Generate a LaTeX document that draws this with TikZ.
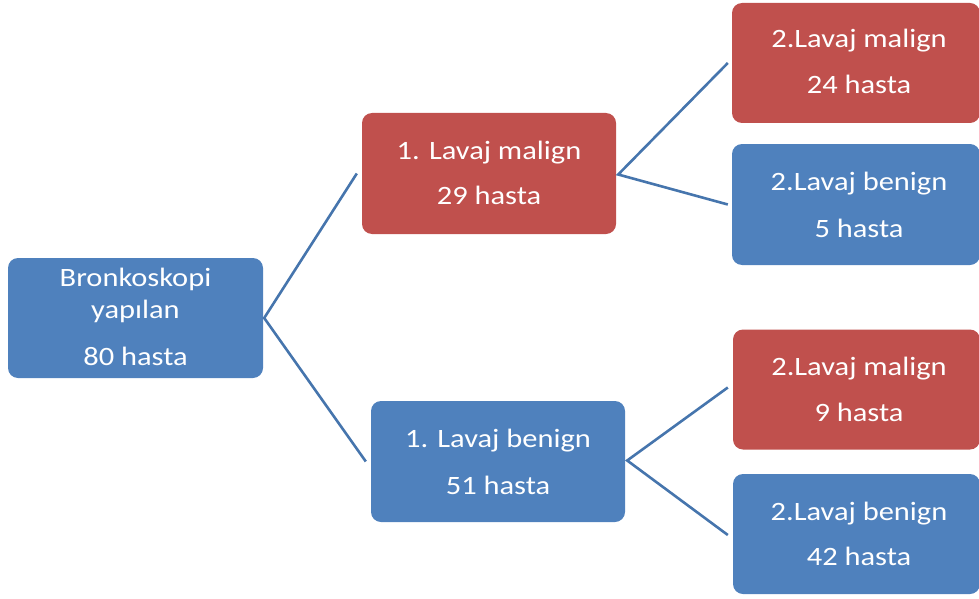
\documentclass[tikz,border=0pt]{standalone}
\usepackage{fontspec}
\setmainfont{Carlito}[FakeStretch=1.15]
\definecolor{boxblue}{HTML}{4F81BD}
\definecolor{boxred}{HTML}{C0504D}
\definecolor{linkblue}{HTML}{4675AD}
\begin{document}
\begin{tikzpicture}[x=1pt,y=-1pt,
  box/.style={rounded corners=10pt, inner sep=0pt, draw=none},
  bluebox/.style={box, fill=boxblue},
  redbox/.style={box, fill=boxred},
  txt/.style={anchor=base, inner sep=0pt, text=white, font=\fontsize{26.5}{31}\selectfont},
  link/.style={draw=linkblue, line width=2.6pt}]
\useasboundingbox (0,0) rectangle (979,599);
% boxes
\node[bluebox, minimum width=255pt, minimum height=120pt] (root) at (135.5,318) {};
\node[redbox,  minimum width=254pt, minimum height=121pt] (m1) at (489,173.5) {};
\node[bluebox, minimum width=254pt, minimum height=121pt] (m2) at (498,461.5) {};
\node[redbox,  minimum width=248pt, minimum height=120pt] (r1) at (856,63) {};
\node[bluebox, minimum width=248pt, minimum height=121pt] (r2) at (856,204.5) {};
\node[redbox,  minimum width=247pt, minimum height=120pt] (r3) at (856.5,389.5) {};
\node[bluebox, minimum width=247pt, minimum height=120pt] (r4) at (856.5,534) {};
% texts
\node[txt] (t0a) at (135.5,286) {Bronkoskopi};
\node[txt] (t0b) at (135.5,318) {yapılan};
\node[txt] (t0c) at (135.5,365) {80 hasta};
\node[txt] (t1a) at (489,159) {1. Lavaj malign};
\node[txt] (t1b) at (489,204) {29 hasta};
\node[txt] (t2a) at (498,447) {1. Lavaj benign};
\node[txt] (t2b) at (498,494) {51 hasta};
\node[txt] (t3a) at (859,48) {2.Lavaj malign};
\node[txt] (t3b) at (859,94) {24 hasta};
\node[txt] (t4a) at (859,190) {2.Lavaj benign};
\node[txt] (t4b) at (859,237) {5 hasta};
\node[txt] (t5a) at (859,375) {2.Lavaj malign};
\node[txt] (t5b) at (859,421) {9 hasta};
\node[txt] (t6a) at (859,520) {2.Lavaj benign};
\node[txt] (t6b) at (859,565) {42 hasta};
% connectors
\draw[link] ([xshift=-5pt]m1.west) -- ([xshift=1pt]root.east) -- ([xshift=-5pt]m2.west);
\draw[link] ([xshift=-4pt,yshift=0pt]r1.west) -- ([xshift=2pt,yshift=-1pt]m1.east) -- ([xshift=-4pt]r2.west);
\draw[link] ([xshift=-5pt,yshift=2pt]r3.west) -- ([xshift=2pt,yshift=1pt]m2.east) -- ([xshift=-5pt,yshift=-1pt]r4.west);
\end{tikzpicture}
\end{document}
